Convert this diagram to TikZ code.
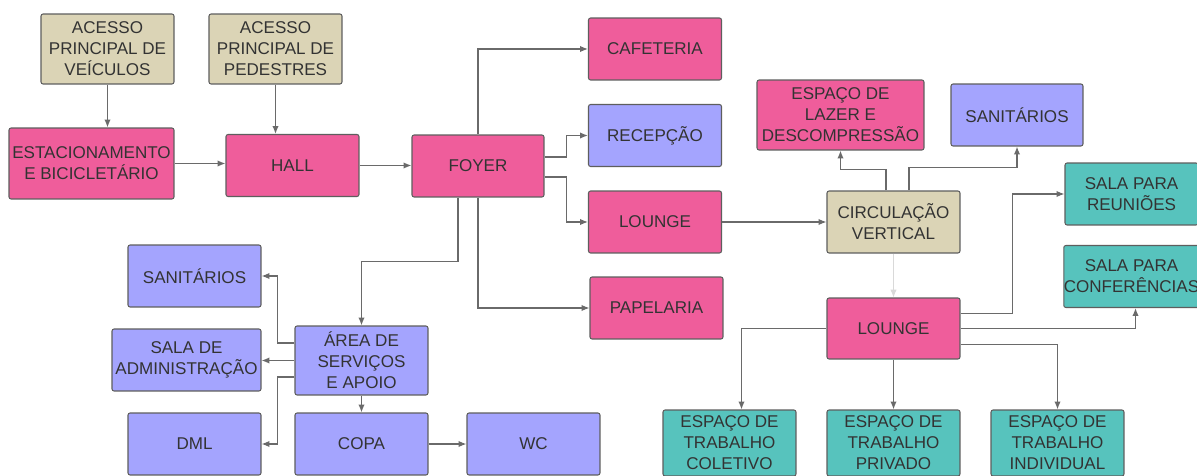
\documentclass[tikz,border=0pt]{standalone}
\usepackage{fontspec}
\setmainfont{Liberation Sans}
\usepackage{tikz}
\usetikzlibrary{calc,arrows.meta}

\definecolor{rosa}{HTML}{EF5D9B}
\definecolor{lilas}{HTML}{A4A4FE}
\definecolor{bege}{HTML}{DBD4B6}
\definecolor{verde}{HTML}{57C3BD}
\definecolor{borda}{HTML}{5E5E5E}
\definecolor{seta}{HTML}{6A6A6A}

\tikzset{
    caixa/.style={draw=borda, line width=0.6pt, rounded corners=1.2pt, inner sep=0pt, align=center,
        minimum width=2.66cm, minimum height=1.24cm, text=black!80, font=\fontsize{9.7}{11.9}\selectfont},
    fluxo/.style={draw=seta, line width=0.75pt, -{Latex[length=4.5pt,width=3.6pt]}}
}

\begin{document}
\begin{tikzpicture}[x=0.02cm, y=-0.02cm]
    \clip (0,0) rectangle (1197,476);
    \fill[white] (0,0) rectangle (1197,476);

    % entradas
    \node[caixa, fill=bege, minimum height=1.4cm] (acv) at (107.5,49) {ACESSO\\PRINCIPAL DE\\VEÍCULOS};
    \node[caixa, fill=bege, minimum height=1.4cm] (acp) at (275.5,49) {ACESSO\\PRINCIPAL DE\\PEDESTRES};
    \node[caixa, fill=rosa, minimum width=3.3cm, minimum height=1.42cm] (est) at (91.5,163.5) {ESTACIONAMENTO\\E BICICLETÁRIO};
    \node[caixa, fill=rosa] (hall) at (292.5,165.5) {HALL};
    \node[caixa, fill=rosa, minimum width=2.64cm] (foyer) at (478,166) {FOYER};

    % saidas do foyer
    \node[caixa, fill=rosa] (cafe) at (655,49) {CAFETERIA};
    \node[caixa, fill=lilas] (recep) at (655,135.5) {RECEPÇÃO};
    \node[caixa, fill=rosa] (lng1) at (655,222) {LOUNGE};
    \node[caixa, fill=rosa] (papel) at (656.5,308) {PAPELARIA};

    % servicos
    \node[caixa, fill=lilas, minimum height=1.38cm] (area) at (361.5,360.5) {ÁREA DE\\SERVIÇOS\\E APOIO};
    \node[caixa, fill=lilas] (sanl) at (194.5,276) {SANITÁRIOS};
    \node[caixa, fill=lilas, minimum width=2.98cm] (admin) at (186.5,360) {SALA DE\\ADMINISTRAÇÃO};
    \node[caixa, fill=lilas] (dml) at (194.5,444) {DML};
    \node[caixa, fill=lilas] (copa) at (361.5,444) {COPA};
    \node[caixa, fill=lilas] (wc) at (533.5,444) {WC};

    % circulacao e lounge superior
    \node[caixa, fill=rosa, minimum width=3.34cm, minimum height=1.4cm] (lazer) at (840.5,115) {ESPAÇO DE\\LAZER E\\DESCOMPRESSÃO};
    \node[caixa, fill=lilas, minimum width=2.64cm] (sanr) at (1017,115) {SANITÁRIOS};
    \node[caixa, fill=bege] (circ) at (893.5,222) {CIRCULAÇÃO\\VERTICAL};
    \node[caixa, fill=verde] (reun) at (1131.5,194) {SALA PARA\\REUNIÕES};
    \node[caixa, fill=verde] (conf) at (1131.5,276.5) {SALA PARA\\CONFERÊNCIAS};
    \node[caixa, fill=rosa, minimum height=1.22cm] (lng2) at (893.5,328.5) {LOUNGE};
    \node[caixa, fill=verde, minimum height=1.32cm] (colet) at (729.5,443) {ESPAÇO DE\\TRABALHO\\COLETIVO};
    \node[caixa, fill=verde, minimum height=1.32cm] (priv) at (893.5,443) {ESPAÇO DE\\TRABALHO\\PRIVADO};
    \node[caixa, fill=verde, minimum height=1.32cm] (indiv) at (1057.5,443) {ESPAÇO DE\\TRABALHO\\INDIVIDUAL};

    % ligacoes retas
    \foreach \a/\b in {acv.south/est.north, acp.south/hall.north, area.south/copa.north, lng2.south/priv.north} {
        \draw[fluxo] (\a) -- (\a |- \b);
    }
    \foreach \a/\b in {est.east/hall.west, hall.east/foyer.west, copa.east/wc.west, lng1.east/circ.west, area.west/admin.east} {
        \draw[fluxo] (\a) -- (\a -| \b);
    }

    % ligacoes do foyer
    \draw[fluxo] (foyer.north) |- (cafe.west);
    \draw[fluxo] ($(foyer.east)+(0,-9)$) -- ++(22,0) |- (recep.west);
    \draw[fluxo] ($(foyer.east)+(0,11)$) -- ++(22,0) |- (lng1.west);
    \draw[fluxo] (foyer.south) |- (papel.west);
    \draw[fluxo] ($(foyer.south)+(-20,0)$) -- ++(0,64) -| (area.north);

    % ligacoes da area de servicos
    \draw[fluxo] ($(area.west)+(0,-17.5)$) -- ++(-17,0) |- (sanl.east);
    \draw[fluxo] ($(area.west)+(0,16.5)$) -- ++(-17,0) |- (dml.east);

    % ligacoes da circulacao
    \draw[fluxo] ($(circ.north)+(-7.5,0)$) -- ++(0,-21) -| (lazer.south);
    \draw[fluxo] ($(circ.north)+(15.5,0)$) -- ++(0,-23) -| (sanr.south);
    \draw[fluxo, draw=black!15, line width=0.5pt] (circ.south) -- (lng2.north);

    % ligacoes do lounge
    \draw[fluxo] ($(lng2.east)+(0,-15)$) -- ++(52,0) |- (reun.west);
    \draw[fluxo] (lng2.east) -| ($(conf.south)+(4,0)$);
    \draw[fluxo] ($(lng2.east)+(0,16)$) -| (indiv.north);
    \draw[fluxo] (lng2.west) -| ($(colet.north)+(12,0)$);
\end{tikzpicture}
\end{document}
